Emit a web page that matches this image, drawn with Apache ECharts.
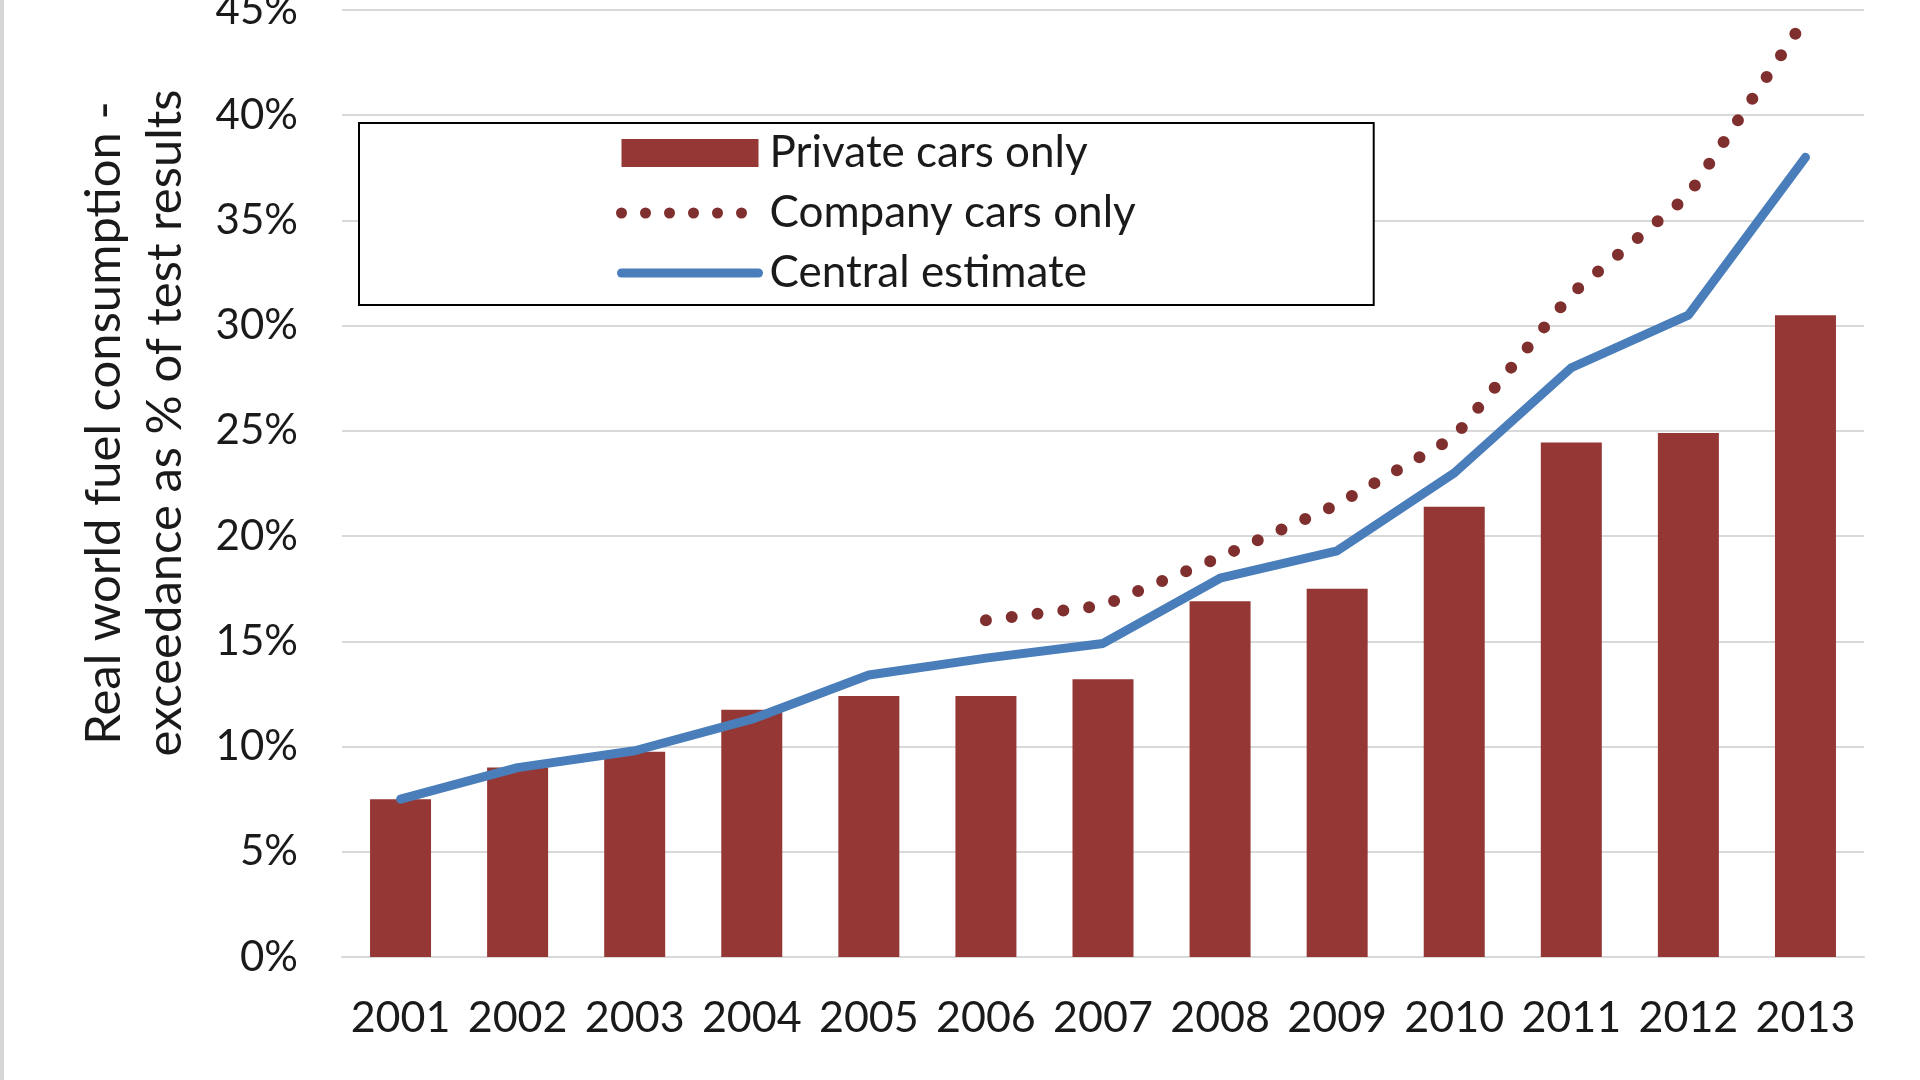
<!DOCTYPE html>
<html>
<head>
<meta charset="utf-8">
<script src="https://cdn.jsdelivr.net/npm/echarts@6/dist/echarts.min.js"></script>
<style>
  html, body { margin: 0; padding: 0; background: #fff; }
  #chart { width: 1920px; height: 1080px; }
</style>
</head>
<body>
<div id="chart"></div>
<script>
// ---- Data ----
const years = ['2001','2002','2003','2004','2005','2006','2007','2008','2009','2010','2011','2012','2013'];
const privateCars = [7.5, 9.0, 9.75, 11.75, 12.4, 12.4, 13.2, 16.9, 17.5, 21.4, 24.45, 24.9, 30.5];
const companyCars = [null, null, null, null, null, 16.0, 16.7, 19.0, 21.5, 24.7, 31.5, 36.2, 44.6];
const centralEstimate = [7.5, 9.0, 9.8, 11.3, 13.4, 14.2, 14.9, 18.0, 19.3, 23.0, 28.0, 30.5, 38.0];
const yTicks = { min: 0, max: 45, interval: 5 };
const seriesNames = ['Private cars only', 'Company cars only', 'Central estimate'];
const yTitle = 'Real world fuel consumption -\nexceedance as % of test results';

const FONT = 'Lato';
const chart = echarts.init(document.getElementById('chart'));
chart.setOption({
  animation: false,
  backgroundColor: '#ffffff',
  grid: { left: 342, right: 56, top: 10, bottom: 123, containLabel: false, outerBoundsMode: 'none' },
  xAxis: {
    type: 'category',
    data: years,
    axisLine: { show: true, lineStyle: { color: '#d9d9d9', width: 2 } },
    axisTick: { show: false },
    axisLabel: { color: '#1a1a1a', fontFamily: FONT, fontSize: 43, margin: 40, interval: 0 }
  },
  yAxis: {
    type: 'value',
    min: yTicks.min, max: yTicks.max, interval: yTicks.interval,
    axisLine: { show: false },
    axisTick: { show: false },
    splitLine: { lineStyle: { color: '#d9d9d9', width: 2 } },
    axisLabel: { color: '#1a1a1a', fontFamily: FONT, fontSize: 42, margin: 44, formatter: '{value}%' }
  },
  legend: {
    orient: 'vertical',
    left: 359, top: 123,
    padding: [8, 238, 10, 257],
    itemGap: 16,
    itemWidth: 137, itemHeight: 28,
    borderColor: '#000', borderWidth: 2,
    backgroundColor: '#ffffff',
    z: 10,
    textStyle: { fontFamily: FONT, fontSize: 44, color: '#1a1a1a', padding: [0, 0, 0, 6] },
    data: [
      { name: seriesNames[0], icon: 'rect' },
      { name: seriesNames[1], itemStyle: { opacity: 0 },
        lineStyle: { width: 11, type: [0, 24], cap: 'round', color: '#7f2f2d' } },
      { name: seriesNames[2], itemStyle: { opacity: 0 },
        lineStyle: { width: 9, cap: 'round', color: '#4a7ebb' } }
    ]
  },
  graphic: [
    { type: 'rect', left: 0, top: 0, shape: { width: 4, height: 1080 }, style: { fill: '#d6d6d6' }, silent: true },
    {
      type: 'text', x: 135, y: 423, rotation: Math.PI / 2,
      style: {
        text: yTitle, fontFamily: FONT, fontSize: 49, fill: '#1a1a1a',
        align: 'center', verticalAlign: 'middle', lineHeight: 61
      }
    }
  ],
  series: [
    {
      name: seriesNames[0], type: 'bar', data: privateCars,
      barWidth: 61,
      itemStyle: { color: '#953735' },
      z: 2
    },
    {
      name: seriesNames[1], type: 'line', data: companyCars,
      symbol: 'none', connectNulls: false,
      lineStyle: { color: '#7f2f2d', width: 12, type: [0, 26], cap: 'round' },
      itemStyle: { color: '#7f2f2d' },
      z: 3
    },
    {
      name: seriesNames[2], type: 'line', data: centralEstimate,
      symbol: 'none',
      lineStyle: { color: '#4a7ebb', width: 9, cap: 'round', join: 'round' },
      itemStyle: { color: '#4a7ebb' },
      z: 4
    }
  ]
});
</script>
</body>
</html>
